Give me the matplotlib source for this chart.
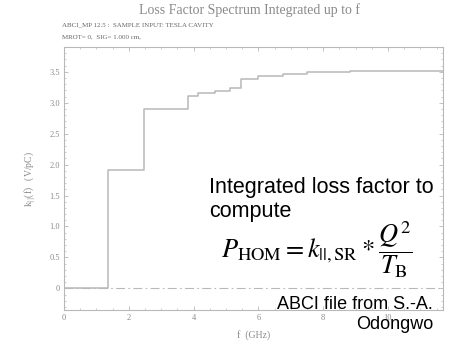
import matplotlib
matplotlib.use("Agg")
import matplotlib.pyplot as plt
from matplotlib.ticker import MultipleLocator, FixedLocator

# step edges of the integrated loss factor (GHz, V/pC)
freq = [0.0, 1.35, 2.47, 3.84, 4.14, 4.66, 5.12, 5.46, 5.99, 6.76, 7.5, 8.83, 11.7]
k_loss = [0.0, 1.92, 2.89, 3.11, 3.15, 3.19, 3.24, 3.39, 3.43, 3.47, 3.49, 3.51, 3.51]

x_ticks = [0, 2, 4, 6, 8, 10]
x_labels = ["0", "2", "4", "6", "8", "10"]
y_ticks = [0, 0.5, 1.0, 1.5, 2.0, 2.5, 3.0, 3.5]
y_labels = ["0", "0.5", "1.0", "1.5", "2.0", "2.5", "3.0", "3.5"]

GREY = "#b8b8b8"
TXT = "#8a8a8a"
SERIF = "Liberation Serif"

fig = plt.figure(figsize=(4.52, 3.44), dpi=100)
ax = fig.add_axes([0.1416, 0.0988, 0.8385, 0.7646])

ax.axhline(0, color=GREY, lw=0.8, ls=(0, (8, 3, 1.5, 3)))
ax.step(freq, k_loss, where="post", color=GREY, lw=1.1)

ax.set_xlim(0, 11.7)
ax.set_ylim(-0.35, 3.9)
ax.xaxis.set_major_locator(FixedLocator(x_ticks))
ax.set_xticklabels(x_labels)
ax.xaxis.set_minor_locator(MultipleLocator(0.5))
ax.yaxis.set_major_locator(FixedLocator(y_ticks))
ax.set_yticklabels(y_labels)
ax.yaxis.set_minor_locator(MultipleLocator(0.1))
ax.tick_params(which="both", direction="in", top=True, right=True, color=GREY,
               labelcolor=TXT, labelsize=6, pad=3)
ax.tick_params(which="major", length=3, width=0.6)
ax.tick_params(which="minor", length=1.5, width=0.5)
for lab in ax.get_xticklabels() + ax.get_yticklabels():
    lab.set_family(SERIF)
for s in ax.spines.values():
    s.set_color(GREY)
    s.set_linewidth(0.8)

ax.set_xlabel("f  (GHz)", family=SERIF, fontsize=7, color=TXT, labelpad=6)
ax.set_ylabel(r"k$_{||}$(f)   (V/pC)", family=SERIF, fontsize=7, color=TXT, labelpad=8)

fig.text(0.553, 0.97, "Loss Factor Spectrum Integrated up to f", family=SERIF,
         fontsize=10, color=TXT, ha="center", va="center")
fig.text(0.137, 0.928, "ABCI_MP 12.5 :  SAMPLE INPUT: TESLA CAVITY", family=SERIF,
         fontsize=5, color="#666666", ha="left", va="center")
fig.text(0.137, 0.893, "MROT= 0,  SIG= 1.000 cm,", family=SERIF,
         fontsize=5, color="#666666", ha="left", va="center")

# overlaid slide annotations
fig.text(0.462, 0.419, "Integrated loss factor to\ncompute", family="Liberation Sans",
         fontsize=15.5, color="black", ha="left", va="center", linespacing=1.2)
plt.rcParams["mathtext.fontset"] = "stix"
fig.text(0.70, 0.273, r"$P_{\mathrm{HOM}} = k_{||,\mathrm{SR}} * \dfrac{Q^2}{T_{\mathrm{B}}}$",
         fontsize=19, color="black", ha="center", va="center")
fig.text(0.958, 0.086, "ABCI file from S.-A.\nOdongwo", family="Liberation Sans",
         fontsize=13, color="black", ha="right", va="center", linespacing=1.17)

fig.savefig("out.png", dpi=100)
